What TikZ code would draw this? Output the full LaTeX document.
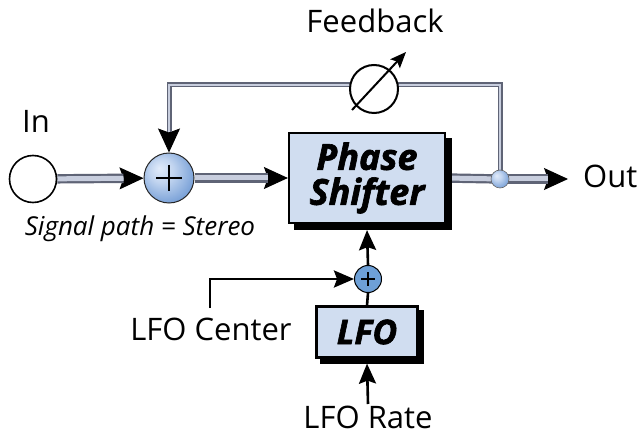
\documentclass[tikz,border=0pt]{standalone}
\usepackage{fontspec}
\setmainfont{Open Sans}
\newfontfamily\heavyfont{Open Sans}[BoldItalicFeatures={FakeBold=1.8}]
\usetikzlibrary{arrows.meta,calc,backgrounds}
\definecolor{boxfill}{RGB}{208,221,240}
\definecolor{sumedge}{RGB}{120,160,215}
\definecolor{sumhl}{RGB}{225,235,250}
\definecolor{flatblue}{RGB}{110,160,215}
\definecolor{pipeout}{RGB}{95,100,118}
\definecolor{pipein}{RGB}{200,206,222}
\pgfdeclareradialshading{sumshade}{\pgfpoint{-10bp}{10bp}}{color(0bp)=(sumhl); color(12bp)=(sumhl!70!sumedge); color(30bp)=(sumedge); color(50bp)=(sumedge)}
\tikzset{
  bigtip/.tip={Stealth[length=24pt,width=22pt,inset=4pt]},
  smalltip/.tip={Stealth[length=20pt,width=17pt,inset=3pt]},
  pipe/.style={draw=pipeout,line width=2.2pt,double=pipein,double distance=5pt},
  fbpipe/.style={draw=pipeout,line width=1.3pt,double=pipein,double distance=2.4pt},
  tipline/.style={line width=1pt,black},
  ctl/.style={line width=2.6pt,black},
  sumball/.style={circle,draw=black!85,line width=1pt,shading=sumshade,minimum size=50pt,inner sep=0pt},
  junction/.style={circle,draw=black!60,line width=0.6pt,shading=sumshade,minimum size=18pt,inner sep=0pt},
  blockbox/.style={draw=black,line width=2.2pt,fill=boxfill,align=center,inner sep=0pt,
    preaction={fill=black,draw=black,line width=2.2pt,transform canvas={shift={(#1,-#1)}}}},
  lbl/.style={font=\fontsize{31}{36}\selectfont,inner sep=0pt,anchor=base},
}
\begin{document}
\begin{tikzpicture}[x=1pt,y=-1pt]
\useasboundingbox (0,0) rectangle (639,435);
% nodes
\node[circle,draw,line width=1.6pt,fill=white,minimum size=47pt,inner sep=0pt] (in) at (33,179) {};
\node[sumball] (sum) at (169,178) {};
\node[blockbox=6pt,minimum width=156pt,minimum height=90pt,
      font=\fontsize{36}{36}\selectfont\heavyfont\bfseries\itshape] (ps) at (367,178) {Phase\\[-1pt]Shifter};
\node[junction] (j) at (500,179) {};
\coordinate (outend) at (568,179);
\coordinate (fbR) at (500,85);
\coordinate (fbL) at (169,85);
\node[circle,draw,line width=2pt,fill=white,minimum size=48pt,inner sep=0pt] (pot) at (374,89) {};
\coordinate (potA) at (352,110);
\coordinate (potB) at (406,52);
\node[circle,draw=black,line width=1pt,fill=flatblue,minimum size=27pt,inner sep=0pt] (ssum) at (368,279) {};
\node[blockbox=5pt,minimum width=101pt,minimum height=51pt,
      font=\fontsize{34}{34}\selectfont\heavyfont\bfseries\itshape] (lfo) at (367,332) {LFO};
\coordinate (lc) at (210,308);
\coordinate (lr) at (368,404);
% labels
\node[lbl] (inlbl) at (36,133) {In};
\node[lbl] (fblbl) at (375,33) {Feedback};
\node[lbl,anchor=base west] (outlbl) at (583,188) {Out};
\node[font=\fontsize{26}{30}\selectfont\itshape,inner sep=0pt,anchor=base] (sig) at (140,236) {Signal path = Stereo};
\node[lbl] (lclbl) at (211,340) {LFO Center};
\node[lbl] (lrlbl) at (368,428) {LFO Rate};
% plus signs
\draw[line width=2pt] ($(sum)+(-13,0)$) -- ($(sum)+(13,0)$) ($(sum)+(0,-13)$) -- ($(sum)+(0,13)$);
\draw[line width=1.3pt] ($(ssum)+(-7,0)$) -- ($(ssum)+(7,0)$) ($(ssum)+(0,-7)$) -- ($(ssum)+(0,7)$);
% pipes
\begin{scope}[on background layer]
  \draw[tipline,-bigtip] (in) -- (sum);
  \draw[pipe,shorten >=20pt] (in) -- (sum);
  \draw[tipline,-bigtip] (sum) -- (ps.west);
  \draw[pipe,shorten >=20pt] (sum) -- (ps.west);
  \draw[pipe] (ps.east) -- (j.center);
  \draw[tipline,-bigtip] (j.center) -- (outend);
  \draw[pipe,shorten >=20pt] (j.center) -- (outend);
  \draw[tipline,-bigtip] (fbL) -- (sum.north);
  \draw[fbpipe,shorten >=20pt] (j.center) -- (fbR) -- (fbL) -- (sum.north);
\end{scope}
\draw[line width=2pt,-{Stealth[length=16pt,width=13pt,inset=3pt]}] (potA) -- (potB);
% control lines
\draw[ctl,-smalltip] (ssum.north) -- ($(ps.south)+(0,6)$);
\draw[ctl] (lfo.north) -- (ssum.south);
\draw[ctl,-smalltip] (lc) |- (ssum.west);
\draw[ctl,-smalltip] (lr) -- ($(lfo.south)+(0,5)$);
\end{tikzpicture}
\end{document}
